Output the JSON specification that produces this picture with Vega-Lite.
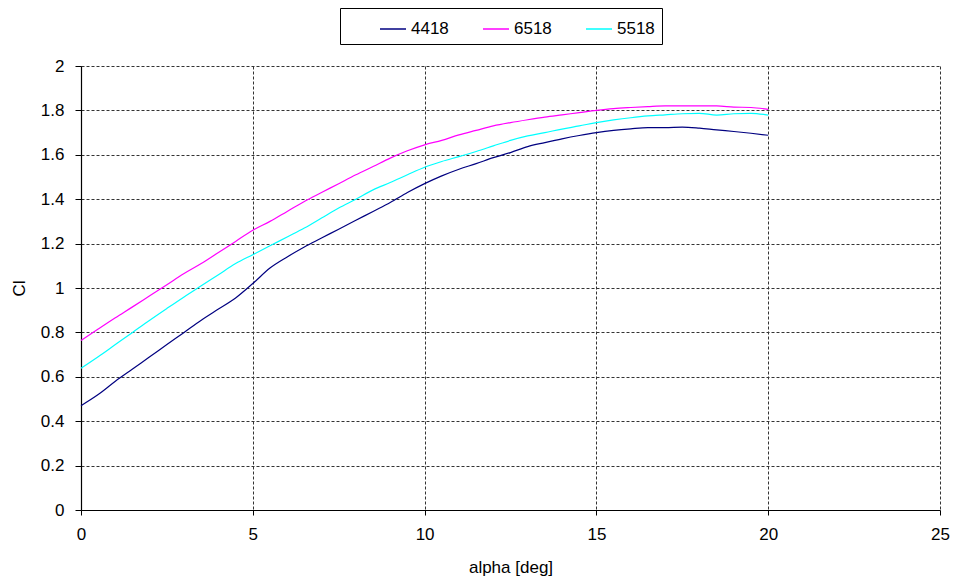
{
  "$schema": "https://vega.github.io/schema/vega-lite/v6.json",
  "width": 859,
  "height": 444,
  "autosize": {"type": "none"},
  "padding": {"left": 81, "top": 66, "right": 15, "bottom": 74},
  "background": "white",
  "config": {
    "font": "Liberation Sans",
    "view": {"stroke": null},
    "axis": {
      "labelFont": "Liberation Sans",
      "titleFont": "Liberation Sans",
      "labelFontSize": 17,
      "titleFontSize": 17,
      "titleFontWeight": "normal",
      "labelColor": "black",
      "titleColor": "black",
      "domainColor": "black",
      "tickColor": "black",
      "gridColor": "#333",
      "gridDash": [3, 2],
      "gridWidth": 1,
      "domainWidth": 1.2
    }
  },
  "datasets": {
    "polar": [
      {"alpha": 0, "cl": 0.47, "airfoil": "4418"},
      {"alpha": 0.5, "cl": 0.52, "airfoil": "4418"},
      {"alpha": 1, "cl": 0.58, "airfoil": "4418"},
      {"alpha": 1.5, "cl": 0.635, "airfoil": "4418"},
      {"alpha": 2, "cl": 0.69, "airfoil": "4418"},
      {"alpha": 2.5, "cl": 0.745, "airfoil": "4418"},
      {"alpha": 3, "cl": 0.8, "airfoil": "4418"},
      {"alpha": 3.5, "cl": 0.855, "airfoil": "4418"},
      {"alpha": 4, "cl": 0.905, "airfoil": "4418"},
      {"alpha": 4.5, "cl": 0.955, "airfoil": "4418"},
      {"alpha": 5, "cl": 1.02, "airfoil": "4418"},
      {"alpha": 5.5, "cl": 1.09, "airfoil": "4418"},
      {"alpha": 6, "cl": 1.14, "airfoil": "4418"},
      {"alpha": 6.5, "cl": 1.185, "airfoil": "4418"},
      {"alpha": 7, "cl": 1.225, "airfoil": "4418"},
      {"alpha": 7.5, "cl": 1.265, "airfoil": "4418"},
      {"alpha": 8, "cl": 1.305, "airfoil": "4418"},
      {"alpha": 8.5, "cl": 1.345, "airfoil": "4418"},
      {"alpha": 9, "cl": 1.385, "airfoil": "4418"},
      {"alpha": 9.5, "cl": 1.43, "airfoil": "4418"},
      {"alpha": 10, "cl": 1.47, "airfoil": "4418"},
      {"alpha": 10.5, "cl": 1.505, "airfoil": "4418"},
      {"alpha": 11, "cl": 1.535, "airfoil": "4418"},
      {"alpha": 11.5, "cl": 1.56, "airfoil": "4418"},
      {"alpha": 12, "cl": 1.587, "airfoil": "4418"},
      {"alpha": 12.5, "cl": 1.61, "airfoil": "4418"},
      {"alpha": 13, "cl": 1.637, "airfoil": "4418"},
      {"alpha": 13.5, "cl": 1.655, "airfoil": "4418"},
      {"alpha": 14, "cl": 1.672, "airfoil": "4418"},
      {"alpha": 14.5, "cl": 1.687, "airfoil": "4418"},
      {"alpha": 15, "cl": 1.7, "airfoil": "4418"},
      {"alpha": 15.5, "cl": 1.71, "airfoil": "4418"},
      {"alpha": 16, "cl": 1.717, "airfoil": "4418"},
      {"alpha": 16.5, "cl": 1.722, "airfoil": "4418"},
      {"alpha": 17, "cl": 1.722, "airfoil": "4418"},
      {"alpha": 17.5, "cl": 1.725, "airfoil": "4418"},
      {"alpha": 18, "cl": 1.72, "airfoil": "4418"},
      {"alpha": 18.5, "cl": 1.712, "airfoil": "4418"},
      {"alpha": 19, "cl": 1.705, "airfoil": "4418"},
      {"alpha": 19.5, "cl": 1.697, "airfoil": "4418"},
      {"alpha": 20, "cl": 1.688, "airfoil": "4418"},
      {"alpha": 0, "cl": 0.763, "airfoil": "6518"},
      {"alpha": 0.5, "cl": 0.815, "airfoil": "6518"},
      {"alpha": 1, "cl": 0.866, "airfoil": "6518"},
      {"alpha": 1.5, "cl": 0.915, "airfoil": "6518"},
      {"alpha": 2, "cl": 0.965, "airfoil": "6518"},
      {"alpha": 2.5, "cl": 1.015, "airfoil": "6518"},
      {"alpha": 3, "cl": 1.065, "airfoil": "6518"},
      {"alpha": 3.5, "cl": 1.11, "airfoil": "6518"},
      {"alpha": 4, "cl": 1.16, "airfoil": "6518"},
      {"alpha": 4.5, "cl": 1.21, "airfoil": "6518"},
      {"alpha": 5, "cl": 1.26, "airfoil": "6518"},
      {"alpha": 5.5, "cl": 1.3, "airfoil": "6518"},
      {"alpha": 6, "cl": 1.345, "airfoil": "6518"},
      {"alpha": 6.5, "cl": 1.39, "airfoil": "6518"},
      {"alpha": 7, "cl": 1.43, "airfoil": "6518"},
      {"alpha": 7.5, "cl": 1.47, "airfoil": "6518"},
      {"alpha": 8, "cl": 1.51, "airfoil": "6518"},
      {"alpha": 8.5, "cl": 1.547, "airfoil": "6518"},
      {"alpha": 9, "cl": 1.585, "airfoil": "6518"},
      {"alpha": 9.5, "cl": 1.618, "airfoil": "6518"},
      {"alpha": 10, "cl": 1.645, "airfoil": "6518"},
      {"alpha": 10.5, "cl": 1.665, "airfoil": "6518"},
      {"alpha": 11, "cl": 1.69, "airfoil": "6518"},
      {"alpha": 11.5, "cl": 1.71, "airfoil": "6518"},
      {"alpha": 12, "cl": 1.73, "airfoil": "6518"},
      {"alpha": 12.5, "cl": 1.745, "airfoil": "6518"},
      {"alpha": 13, "cl": 1.758, "airfoil": "6518"},
      {"alpha": 13.5, "cl": 1.77, "airfoil": "6518"},
      {"alpha": 14, "cl": 1.78, "airfoil": "6518"},
      {"alpha": 14.5, "cl": 1.79, "airfoil": "6518"},
      {"alpha": 15, "cl": 1.8, "airfoil": "6518"},
      {"alpha": 15.5, "cl": 1.808, "airfoil": "6518"},
      {"alpha": 16, "cl": 1.813, "airfoil": "6518"},
      {"alpha": 16.5, "cl": 1.817, "airfoil": "6518"},
      {"alpha": 17, "cl": 1.82, "airfoil": "6518"},
      {"alpha": 17.5, "cl": 1.82, "airfoil": "6518"},
      {"alpha": 18, "cl": 1.82, "airfoil": "6518"},
      {"alpha": 18.5, "cl": 1.82, "airfoil": "6518"},
      {"alpha": 19, "cl": 1.815, "airfoil": "6518"},
      {"alpha": 19.5, "cl": 1.813, "airfoil": "6518"},
      {"alpha": 20, "cl": 1.805, "airfoil": "6518"},
      {"alpha": 0, "cl": 0.638, "airfoil": "5518"},
      {"alpha": 0.5, "cl": 0.69, "airfoil": "5518"},
      {"alpha": 1, "cl": 0.745, "airfoil": "5518"},
      {"alpha": 1.5, "cl": 0.8, "airfoil": "5518"},
      {"alpha": 2, "cl": 0.855, "airfoil": "5518"},
      {"alpha": 2.5, "cl": 0.908, "airfoil": "5518"},
      {"alpha": 3, "cl": 0.96, "airfoil": "5518"},
      {"alpha": 3.5, "cl": 1.01, "airfoil": "5518"},
      {"alpha": 4, "cl": 1.06, "airfoil": "5518"},
      {"alpha": 4.5, "cl": 1.11, "airfoil": "5518"},
      {"alpha": 5, "cl": 1.15, "airfoil": "5518"},
      {"alpha": 5.5, "cl": 1.19, "airfoil": "5518"},
      {"alpha": 6, "cl": 1.23, "airfoil": "5518"},
      {"alpha": 6.5, "cl": 1.27, "airfoil": "5518"},
      {"alpha": 7, "cl": 1.315, "airfoil": "5518"},
      {"alpha": 7.5, "cl": 1.36, "airfoil": "5518"},
      {"alpha": 8, "cl": 1.4, "airfoil": "5518"},
      {"alpha": 8.5, "cl": 1.442, "airfoil": "5518"},
      {"alpha": 9, "cl": 1.475, "airfoil": "5518"},
      {"alpha": 9.5, "cl": 1.51, "airfoil": "5518"},
      {"alpha": 10, "cl": 1.544, "airfoil": "5518"},
      {"alpha": 10.5, "cl": 1.57, "airfoil": "5518"},
      {"alpha": 11, "cl": 1.592, "airfoil": "5518"},
      {"alpha": 11.5, "cl": 1.615, "airfoil": "5518"},
      {"alpha": 12, "cl": 1.64, "airfoil": "5518"},
      {"alpha": 12.5, "cl": 1.665, "airfoil": "5518"},
      {"alpha": 13, "cl": 1.685, "airfoil": "5518"},
      {"alpha": 13.5, "cl": 1.7, "airfoil": "5518"},
      {"alpha": 14, "cl": 1.716, "airfoil": "5518"},
      {"alpha": 14.5, "cl": 1.73, "airfoil": "5518"},
      {"alpha": 15, "cl": 1.745, "airfoil": "5518"},
      {"alpha": 15.5, "cl": 1.757, "airfoil": "5518"},
      {"alpha": 16, "cl": 1.767, "airfoil": "5518"},
      {"alpha": 16.5, "cl": 1.775, "airfoil": "5518"},
      {"alpha": 17, "cl": 1.78, "airfoil": "5518"},
      {"alpha": 17.5, "cl": 1.785, "airfoil": "5518"},
      {"alpha": 18, "cl": 1.787, "airfoil": "5518"},
      {"alpha": 18.5, "cl": 1.779, "airfoil": "5518"},
      {"alpha": 19, "cl": 1.785, "airfoil": "5518"},
      {"alpha": 19.5, "cl": 1.787, "airfoil": "5518"},
      {"alpha": 20, "cl": 1.779, "airfoil": "5518"}
    ]
  },
  "data": {"name": "polar"},
  "mark": {"type": "line", "strokeWidth": 1.2, "interpolate": "monotone"},
  "encoding": {
    "x": {
      "field": "alpha",
      "type": "quantitative",
      "scale": {"domain": [0, 25], "nice": false},
      "axis": {
        "title": "alpha [deg]",
        "values": [0, 5, 10, 15, 20, 25],
        "tickSize": 5,
        "labelPadding": 11,
        "titlePadding": 17,
        "labelFlush": false
      }
    },
    "y": {
      "field": "cl",
      "type": "quantitative",
      "scale": {"domain": [0, 2], "nice": false},
      "axis": {
        "title": "Cl",
        "values": [0, 0.2, 0.4, 0.6, 0.8, 1, 1.2, 1.4, 1.6, 1.8, 2],
        "format": "~g",
        "tickSize": 6,
        "labelPadding": 11,
        "titlePadding": 12,
        "labelFlush": false
      }
    },
    "color": {
      "field": "airfoil",
      "type": "nominal",
      "scale": {"domain": ["4418", "6518", "5518"], "range": ["#000080", "#FF00FF", "#00FFFF"]},
      "legend": {
        "title": null,
        "orient": "none",
        "direction": "horizontal",
        "legendX": 259,
        "legendY": -58,
        "symbolType": "stroke",
        "symbolSize": 676,
        "symbolStrokeWidth": 1.5,
        "symbolOffset": 32,
        "labelOffset": 4,
        "columnPadding": 1,
        "labelFontSize": 17,
        "labelFont": "Liberation Sans",
        "labelColor": "black",
        "labelExpr": "datum.label == '5518' ? datum.label + '\u2002\u2002\u2002\u2002' : datum.label",
        "padding": 7,
        "strokeColor": "black",
        "fillColor": "white"
      }
    }
  }
}
